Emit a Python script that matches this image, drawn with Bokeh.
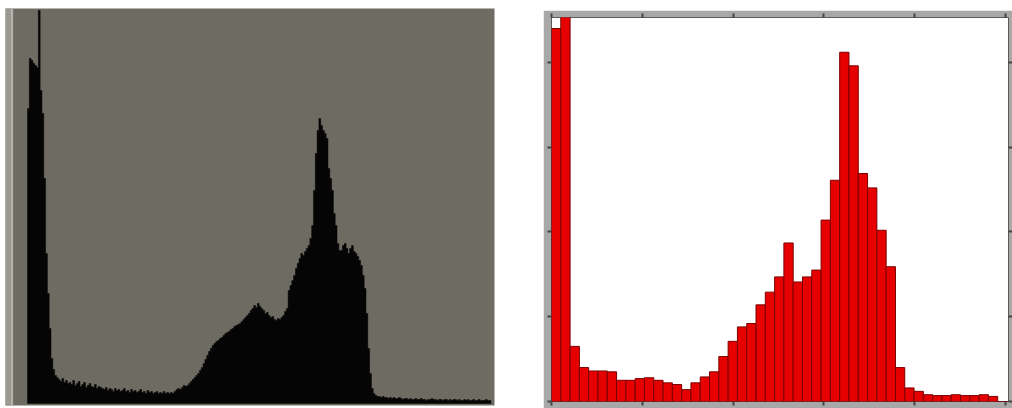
import numpy as np
from bokeh.plotting import figure
from bokeh.layouts import row, column
from bokeh.models import FixedTicker, LinearAxis, BoxAnnotation, Range1d, Spacer
from bokeh.embed import file_html
from bokeh.resources import INLINE

# ---- Left panel: 256-level grey histogram (heights) ----
gray_counts = (
    [295, 345, 343, 340, 338, 336, 393, 313, 290, 225, 150, 110, 75, 45, 34, 28, 26]
    + [24, 22, 25, 21, 23, 20]
    + [21, 19, 23, 18, 20, 22, 17, 19, 21, 16, 18, 20, 17, 16, 19, 15, 17, 16]
    + [15, 14, 16, 13, 15, 14, 12, 15, 13, 14,
       12, 13, 15, 12, 13, 11, 14, 12, 13, 11,
       12, 14, 11, 12, 10, 13, 11, 12, 10, 11,
       12, 10, 11, 10, 12, 10, 11]
    + [10, 11, 10, 12, 14, 15, 14, 16, 18, 17, 18]
    + [20, 22, 24, 26, 28, 30, 33, 36, 40, 44]
    + [48, 52, 55, 58, 60, 62, 63, 65, 66, 68, 70, 71]
    + [72, 74, 75, 77, 78, 79, 80, 82, 84, 86]
    + [88, 90, 93, 95, 98, 96, 100, 97, 95]
    + [93, 90, 91, 88, 86, 87, 84, 83, 85, 84, 86, 88, 92]
    + [95, 113, 118, 123, 128, 135, 140, 145, 150, 148, 152, 155, 158, 165]
    + [178, 213, 250, 273, 285, 278, 273, 270, 265, 235, 225, 213, 190, 178, 160]
    + [153, 153, 158, 160, 155, 150, 155, 158, 152, 150, 147, 143, 138, 128, 115, 90, 55, 30, 15, 10, 8]
    + [7, 7, 6, 7, 6, 6, 5, 6, 5, 6,
       5, 5, 6, 5, 4, 5, 5, 4, 5, 4,
       4, 5, 4, 4, 5, 4, 4, 3, 4, 4,
       5, 4, 4, 3, 4, 4, 3, 4, 4, 3,
       4, 3, 4, 4, 3, 4, 3, 3, 4, 3,
       4, 3, 3, 4, 3, 3, 4, 3, 3, 3,
       4, 3, 3]
)

# ---- Right panel: 50-bin histogram ----
red_counts = [440, 500, 65, 40, 36, 36, 35, 25, 25, 27,
              28, 25, 22, 20, 14, 22, 29, 35, 53, 71,
              88, 92, 114, 129, 147, 187, 141, 147, 155, 214,
              261, 412, 396, 269, 252, 202, 159, 40, 16, 12,
              8, 7, 7, 8, 7, 7, 8, 6, 0, 0]
red_bin_width = 5.12
x_ticks = [0, 50, 100, 150, 200, 250]
y_ticks = [0, 100, 200, 300, 400]

# ---------------- left figure ----------------
x0 = -12.15
p1 = figure(width=543, height=408, x_range=Range1d(x0, 258.0), y_range=Range1d(-2, 395),
            output_backend="svg", toolbar_location=None,
            x_axis_location=None, y_axis_location=None,
            min_border_left=5, min_border_right=49, min_border_top=8, min_border_bottom=3)
p1.background_fill_color = "#6e6c62"
p1.border_fill_color = "white"
p1.outline_line_color = None
p1.grid.visible = False

n = len(gray_counts)
edges = np.arange(n + 1)
xs = [0.0]
ys = [0.0]
for i, c in enumerate(gray_counts):
    xs += [edges[i], edges[i + 1]]
    ys += [c, c]
xs.append(float(n))
ys.append(0.0)
p1.patch(xs, ys, fill_color="#050505", line_color="#050505", line_width=0.5)
p1.add_layout(BoxAnnotation(left=x0, right=x0 + 2.8, fill_color="#9a9992", fill_alpha=1.0, line_color=None))
p1.add_layout(BoxAnnotation(left=x0 + 2.8, right=x0 + 4.2, fill_color="#b4b3ad", fill_alpha=1.0, line_color=None))

# ---------------- right figure ----------------
p2 = figure(width=469, height=398, x_range=Range1d(0, 251.7), y_range=Range1d(0, 453),
            output_backend="svg", toolbar_location=None,
            x_axis_location=None, y_axis_location=None,
            min_border_left=8, min_border_right=4, min_border_top=7, min_border_bottom=7)
p2.background_fill_color = "white"
p2.border_fill_color = "#a8a8a8"
p2.outline_line_color = "#5a5a5a"
p2.grid.visible = False

for side, ticks in [("below", x_ticks), ("above", x_ticks), ("left", y_ticks), ("right", y_ticks)]:
    ax = LinearAxis(ticker=FixedTicker(ticks=ticks))
    ax.axis_line_color = None
    ax.major_tick_in = 0
    ax.major_tick_out = 4
    ax.major_tick_line_color = "#444444"
    ax.major_tick_line_width = 2
    ax.minor_tick_line_color = None
    ax.major_label_text_font_size = "1px"
    ax.major_label_text_color = None
    ax.major_label_standoff = 0
    p2.add_layout(ax, side)

ri = np.arange(len(red_counts))
p2.quad(left=ri * red_bin_width, right=(ri + 1) * red_bin_width, bottom=0, top=red_counts,
        fill_color="#e60000", line_color="#7a0000", line_width=1)

right_col = column(Spacer(width=469, height=10), p2)
layout = row(p1, right_col)
with open("out.html", "w") as f:
    f.write(file_html(layout, INLINE))
